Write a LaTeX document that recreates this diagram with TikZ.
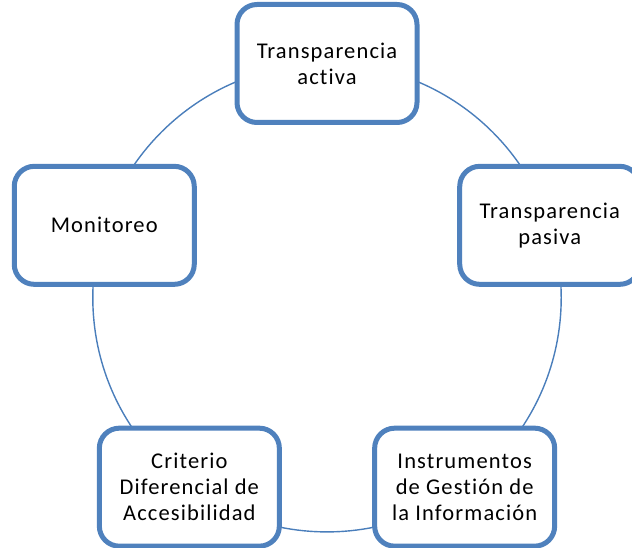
\documentclass[tikz,border=0pt]{standalone}
\usepackage{fontspec}
\setmainfont{Carlito}[LetterSpace=5,Ligatures=NoCommon]
\definecolor{boxblue}{HTML}{4F81BD}
\definecolor{ringblue}{HTML}{4A7EBB}
\begin{document}
\begin{tikzpicture}[x=1pt,y=1pt,
  stage/.style={draw=boxblue, line width=5pt, fill=white, rounded corners=20pt,
    minimum width=180pt, minimum height=118pt, align=center, inner sep=2pt,
    font=\fontsize{22.5}{26}\selectfont, text=black},
  ring/.style={draw=ringblue, line width=1.4pt}]
\clip (0,0) rectangle (632,547);
\coordinate (c) at (327,249.3);
\draw[ring] (c) circle (234.2pt);
\node[stage] (ta) at ([shift={(90:234.2pt)}]c) {Transparencia\\activa};
\node[stage] (tp) at ([shift={(18:234.2pt)}]c) {Transparencia\\pasiva};
\node[stage] (ig) at ([shift={(-54:234.2pt)}]c) {Instrumentos\\de Gestión de\\la Información};
\node[stage] (cd) at ([shift={(-126:234.2pt)}]c) {Criterio\\Diferencial de\\Accesibilidad};
\node[stage] (mo) at ([shift={(162:234.2pt)}]c) {Monitoreo};
\end{tikzpicture}
\end{document}
